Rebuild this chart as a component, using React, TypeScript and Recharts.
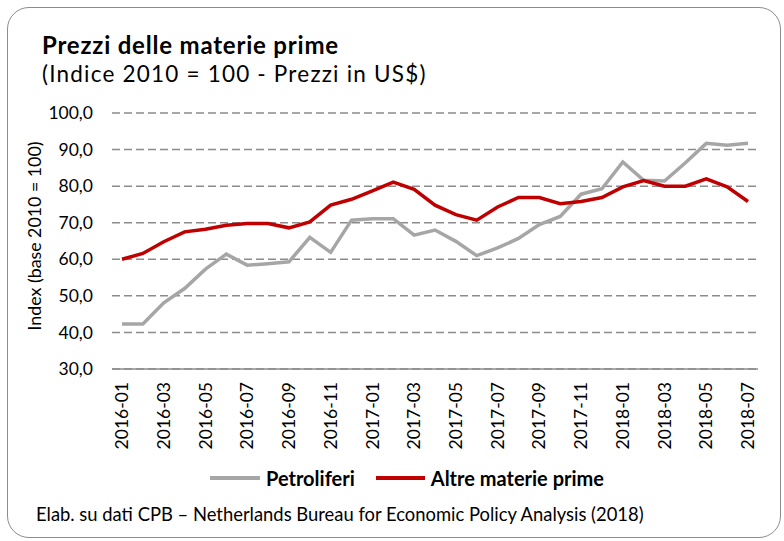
import { LineChart, Line, XAxis, YAxis, CartesianGrid } from "recharts";

const months = [
  "2016-01", "2016-02", "2016-03", "2016-04", "2016-05", "2016-06", "2016-07", "2016-08",
  "2016-09", "2016-10", "2016-11", "2016-12", "2017-01", "2017-02", "2017-03", "2017-04",
  "2017-05", "2017-06", "2017-07", "2017-08", "2017-09", "2017-10", "2017-11", "2017-12",
  "2018-01", "2018-02", "2018-03", "2018-04", "2018-05", "2018-06", "2018-07",
];

const petroliferi = [
  42.3, 42.3, 48.1, 52.0, 57.3, 61.4, 58.4, 58.8, 59.3, 66.0, 61.9, 70.7, 71.1, 71.1, 66.6, 68.0,
  64.9, 61.0, 63.1, 65.7, 69.5, 71.7, 77.8, 79.3, 86.6, 81.6, 81.4, 86.4, 91.7, 91.2, 91.7,
];

const altre = [
  60.0, 61.6, 64.8, 67.5, 68.2, 69.3, 69.8, 69.8, 68.6, 70.2, 74.8, 76.4, 78.7, 81.1, 79.1, 74.8,
  72.2, 70.7, 74.3, 76.9, 76.9, 75.2, 75.8, 76.9, 79.8, 81.5, 80.0, 80.0, 82.0, 79.8, 75.8,
];

const yTicks = [30, 40, 50, 60, 70, 80, 90, 100];

const data = months.map((m, i) => ({ month: m, petroliferi: petroliferi[i], altre: altre[i] }));

const FONT = "Lato, 'Open Sans', sans-serif";
const GREY = "#a6a6a6";
const RED = "#c00000";

function MonthTick(props: any) {
  const { x, y, payload } = props;
  return (
    <g transform={`translate(${x},${y + 13})`}>
      <text
        transform="rotate(-90)"
        textAnchor="end"
        dy="0.35em"
        fontSize={17.5}
        fontFamily={FONT}
        fill="#000"
      >
        {payload.value}
      </text>
    </g>
  );
}

export default function App() {
  return (
    <div style={{ position: "absolute", left: 0, top: 0, width: 784, height: 541, background: "#fff", fontFamily: FONT }}>
      <div
        style={{
          position: "absolute",
          left: 7,
          top: 7,
          width: 772,
          height: 529,
          border: "1.5px solid #8c8c8c",
          borderRadius: 22,
        }}
      />
      <div style={{ position: "absolute", left: 42, top: 29, fontSize: 24, letterSpacing: 0.8, fontWeight: 700, color: "#000", whiteSpace: "nowrap", lineHeight: "32px" }}>
        Prezzi delle materie prime
      </div>
      <div style={{ position: "absolute", left: 42, top: 58, fontSize: 22.5, letterSpacing: 1.2, color: "#000", whiteSpace: "nowrap", lineHeight: "32px" }}>
        (Indice 2010 = 100 - Prezzi in US$)
      </div>
      <div
        style={{
          position: "absolute",
          left: 34,
          top: 236,
          fontSize: 17.8,
          color: "#000",
          whiteSpace: "nowrap",
          transform: "translate(-50%, -50%) rotate(-90deg)",
        }}
      >
        Index (base 2010 = 100)
      </div>

      <div style={{ position: "absolute", left: 0, top: 0 }}>
        <LineChart width={784} height={541} data={data} margin={{ top: 113, right: 26, bottom: 82, left: 32 }}>
          <CartesianGrid vertical={false} stroke="#8c8c8c" strokeWidth={1.5} strokeDasharray="8 4" />
          <XAxis
            dataKey="month"
            interval={1}
            height={90}
            tickLine={false}
            tickSize={0}
            tickMargin={0}
            padding={{ left: 10, right: 10 }}
            axisLine={{ stroke: "#8c8c8c", strokeWidth: 1.5 }}
            tick={<MonthTick />}
          />
          <YAxis
            width={80}
            domain={[30, 100]}
            ticks={yTicks}
            axisLine={false}
            tickLine={false}
            tickSize={0}
            tickMargin={19}
            tickFormatter={(v: number) => v.toFixed(1).replace(".", ",")}
            tick={{ fill: "#000", fontSize: 17.5, fontFamily: FONT }}
          />
          <Line
            type="linear"
            dataKey="petroliferi"
            stroke={GREY}
            strokeWidth={3.5}
            dot={false}
            isAnimationActive={false}
          />
          <Line
            type="linear"
            dataKey="altre"
            stroke={RED}
            strokeWidth={3.5}
            dot={false}
            isAnimationActive={false}
          />
        </LineChart>
      </div>

      <div style={{ position: "absolute", left: 210, top: 465, display: "flex", alignItems: "center", fontSize: 20, fontWeight: 700, color: "#000", whiteSpace: "nowrap", lineHeight: "26px" }}>
        <span style={{ display: "inline-block", width: 50, height: 3.5, background: GREY, marginRight: 6 }} />
        <span>Petroliferi</span>
        <span style={{ display: "inline-block", width: 49, height: 3.5, background: RED, marginLeft: 21, marginRight: 6 }} />
        <span>Altre materie prime</span>
      </div>

      <div style={{ position: "absolute", left: 36, top: 502, fontSize: 18.4, color: "#000", whiteSpace: "nowrap", lineHeight: "24px" }}>
        Elab. su dati CPB – Netherlands Bureau for Economic Policy Analysis (2018)
      </div>
    </div>
  );
}
